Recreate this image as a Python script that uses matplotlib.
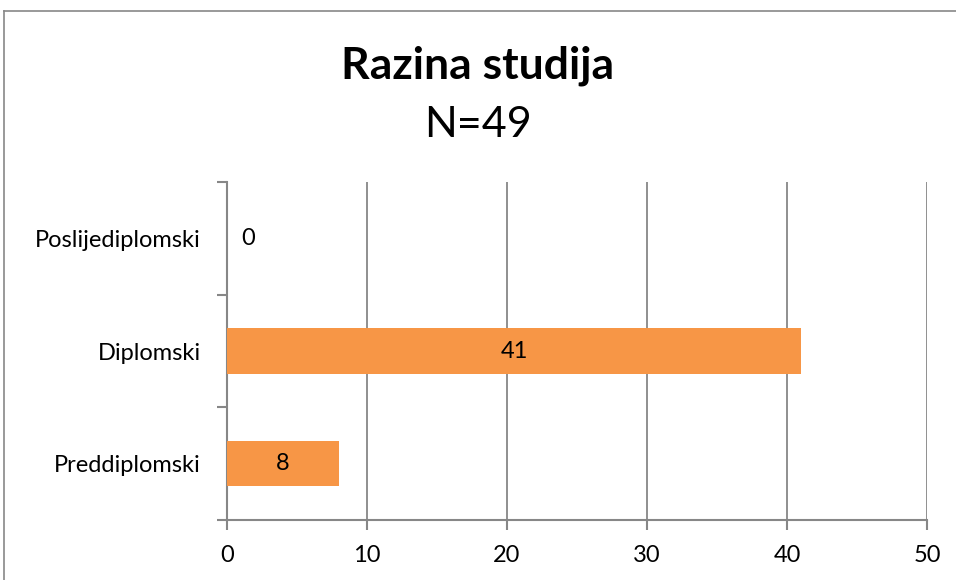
import matplotlib.pyplot as plt
from matplotlib.lines import Line2D

categories = ['Preddiplomski', 'Diplomski', 'Poslijediplomski']
counts = [8, 41, 0]
x_ticks = [0, 10, 20, 30, 40, 50]

plt.rcParams['font.family'] = ['Lato', 'DejaVu Sans']
grey = '#878787'
fs = 17

fig = plt.figure(figsize=(9.56, 5.8), dpi=100)
ax = fig.add_axes([227 / 956, 1 - 520 / 580, 700 / 956, 338 / 580])

pos = list(range(len(categories)))
bars = ax.barh(pos, counts, height=0.4, color='#F79646', zorder=3)

for p, v in zip(pos, counts):
    if v == 0:
        ax.annotate(str(v), (v, p), xytext=(15, 0), textcoords='offset points',
                    ha='center', va='center', fontsize=fs, color='black')
    else:
        ax.text(v / 2, p, str(v), ha='center', va='center', fontsize=fs, zorder=4)

ax.set_xlim(0, 50)
ax.set_ylim(-0.5, 2.5)
ax.set_xticks(x_ticks)
ax.set_xticklabels([str(t) for t in x_ticks], fontsize=fs)
ax.set_yticks(pos)
ax.set_yticklabels(categories, fontsize=fs)
ax.set_yticks([-0.5, 0.5, 1.5, 2.5], minor=True)
ax.tick_params(axis='y', which='major', length=0, pad=19)
ax.tick_params(axis='y', which='minor', length=7, color=grey, width=1.5)
ax.tick_params(axis='x', length=7, color=grey, width=1.5, pad=11)

ax.grid(axis='x', color=grey, linewidth=1.3, zorder=0)
for s in ['top', 'right']:
    ax.spines[s].set_visible(False)
for s in ['left', 'bottom']:
    ax.spines[s].set_color(grey)
    ax.spines[s].set_linewidth(1.5)

fig.text(0.5, 1 - 66 / 580, 'Razina studija', ha='center', va='center',
         fontsize=32, fontweight='bold')
fig.text(0.5, 1 - 125 / 580, 'N=49', ha='center', va='center', fontsize=31)

# outer chart border
fig.add_artist(Line2D([4 / 956, 4 / 956], [0, 1 - 11 / 580], color=grey, linewidth=1.2))
fig.add_artist(Line2D([4 / 956, 1], [1 - 11 / 580, 1 - 11 / 580], color=grey, linewidth=1.2))

fig.savefig('out.png', dpi=100)
